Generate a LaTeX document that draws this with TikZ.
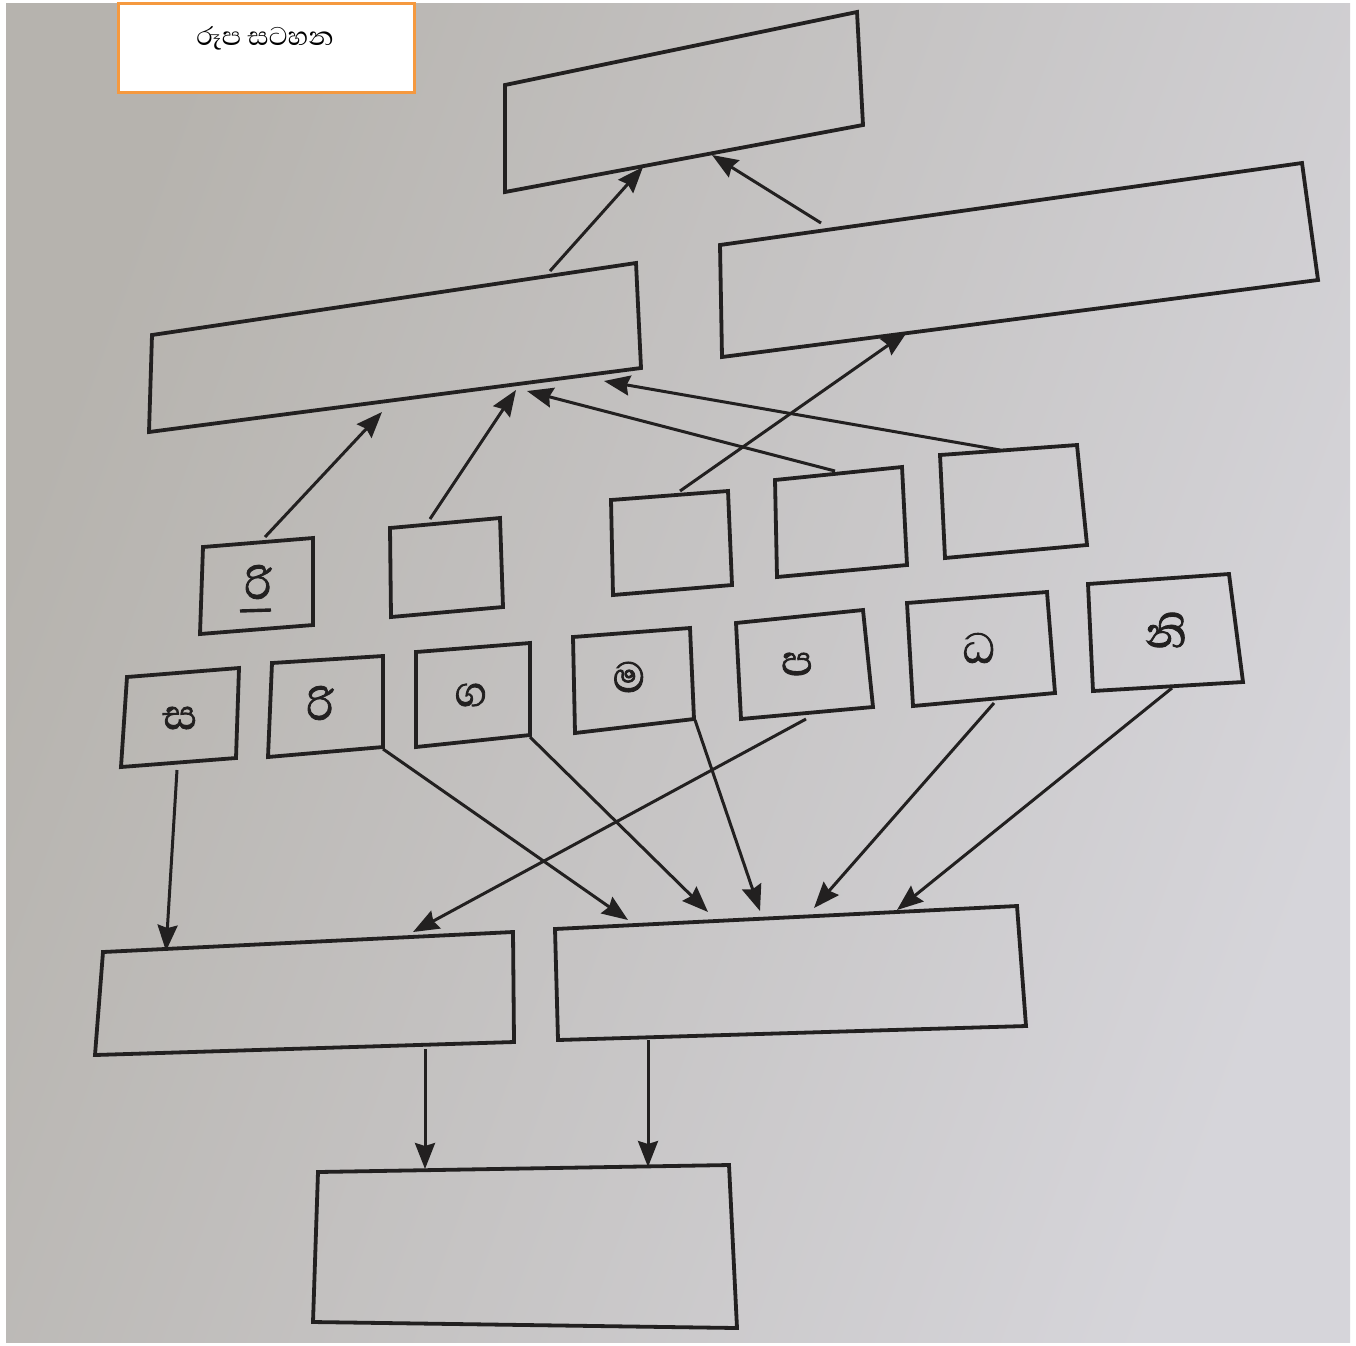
\documentclass[tikz,border=0pt]{standalone}
\usepackage{fontspec}
\newfontfamily\sinfont[Script=Sinhala]{Abhaya Libre}
\newfontfamily\sinbold[Script=Sinhala,FakeBold=1.6]{Abhaya Libre}
\usetikzlibrary{arrows.meta}
\definecolor{inkc}{HTML}{222020}
\definecolor{paperA}{HTML}{B6B3AE}
\definecolor{paperB}{HTML}{D6D5DA}
\definecolor{orangeb}{HTML}{F5993F}
\tikzset{
  boxline/.style={draw=inkc, line width=3.8pt, line join=miter},
  arr/.style={draw=inkc, line width=3pt, -{Stealth[length=26pt,width=20pt,inset=3pt]}},
  letter/.style={text=inkc, font=\sinbold\fontsize{54}{58}\selectfont, inner sep=0pt},
}
\begin{document}
\begin{tikzpicture}[x=1pt,y=-1pt]
\useasboundingbox (0,0) rectangle (1356,1345);
\fill[white] (0,0) rectangle (1356,1345);
\shade[left color=paperA, right color=paperB, shading angle=70] (6,3) rectangle (1350,1342);
% title
\node[draw=orangeb, line width=3pt, fill=white, minimum width=296pt, minimum height=89pt, inner sep=0pt] (title) at (266,48) {};
\node[font=\sinfont\fontsize{33}{36}\selectfont, inner sep=0pt] (titletext) at (265,38) {රූප සටහන};
% big boxes
\draw[boxline] (505,85) -- (857,12) -- (863,125) -- (505,192) -- cycle;
\draw[boxline] (720,245) -- (1302,163) -- (1318,280) -- (722,357) -- cycle;
\draw[boxline] (152,335) -- (636,263) -- (641,368) -- (149,432) -- cycle;
\draw[boxline] (103,952) -- (513,932) -- (514,1042) -- (95,1055) -- cycle;
\draw[boxline] (555,929) -- (1017,906) -- (1026,1026) -- (558,1040) -- cycle;
\draw[boxline] (318,1172) -- (729,1165) -- (737,1328) -- (313,1322) -- cycle;
% row 1 small boxes
\draw[boxline] (203,547) -- (313,538) -- (313,625) -- (200,634) -- cycle;
\draw[boxline] (390,528) -- (500,518) -- (503,607) -- (391,617) -- cycle;
\draw[boxline] (611,500) -- (728,491) -- (732,585) -- (613,595) -- cycle;
\draw[boxline] (775,480) -- (902,467) -- (907,565) -- (777,577) -- cycle;
\draw[boxline] (940,455) -- (1077,445) -- (1087,545) -- (945,558) -- cycle;
% row 2 small boxes
\draw[boxline] (127,677) -- (239,668) -- (236,758) -- (121,767) -- cycle;
\draw[boxline] (272,663) -- (383,656) -- (383,747) -- (268,757) -- cycle;
\draw[boxline] (416,652) -- (530,643) -- (530,735) -- (416,747) -- cycle;
\draw[boxline] (573,637) -- (690,628) -- (694,719) -- (575,733) -- cycle;
\draw[boxline] (736,623) -- (863,610) -- (873,707) -- (741,719) -- cycle;
\draw[boxline] (907,603) -- (1047,592) -- (1055,693) -- (913,706) -- cycle;
\draw[boxline] (1088,584) -- (1229,574) -- (1243,682) -- (1093,691) -- cycle;
% letters
\node[letter] (b1) at (258,582) {රි};
\draw[inkc, line width=3.4pt] (240,611) -- (271,610);
\node[letter] (c1) at (180,718) {ස};
\node[letter] (c2) at (320,703) {රි};
\node[letter] (c3) at (471,695) {ග};
\node[letter] (c4) at (629,677) {ම};
\node[letter] (c5) at (797,664) {ප};
\node[letter] (c6) at (979,648) {ධ};
\node[letter] (c7) at (1166,630) {නි};
% connector endpoints
\coordinate (b1t) at (265,537);
\coordinate (b2t) at (430,519);
\coordinate (b3t) at (680,491);
\coordinate (b4t) at (835,471);
\coordinate (b5t) at (1000,450);
\coordinate (ulb1) at (382,412);
\coordinate (ulb2) at (516,390);
\coordinate (ulb3) at (527,391);
\coordinate (ulb4) at (604,381);
\coordinate (urb) at (907,332);
\coordinate (ult) at (550,271);
\coordinate (urt) at (821,223);
\coordinate (tb1) at (643,167);
\coordinate (tb2) at (712,155);
\coordinate (c1b) at (177,770);
\coordinate (c2b) at (383,749);
\coordinate (c3b) at (530,737);
\coordinate (c4b) at (695,720);
\coordinate (c5b) at (806,719);
\coordinate (c6b) at (994,703);
\coordinate (c7b) at (1172,688);
\coordinate (llt1) at (166,951);
\coordinate (llt2) at (413,932);
\coordinate (lrt1) at (628,920);
\coordinate (lrt2) at (708,912);
\coordinate (lrt3) at (760,911);
\coordinate (lrt4) at (814,908);
\coordinate (lrt5) at (897,910);
\coordinate (llb) at (425,1049);
\coordinate (lrb) at (648,1040);
\coordinate (bbt1) at (425,1169);
\coordinate (bbt2) at (648,1167);
% arrows
\draw[arr] (b1t) -- (ulb1);
\draw[arr] (b2t) -- (ulb2);
\draw[arr] (b4t) -- (ulb3);
\draw[arr] (b5t) -- (ulb4);
\draw[arr] (b3t) -- (urb);
\draw[arr] (ult) -- (tb1);
\draw[arr] (urt) -- (tb2);
\draw[arr] (c1b) -- (llt1);
\draw[arr] (c5b) -- (llt2);
\draw[arr] (c2b) -- (lrt1);
\draw[arr] (c3b) -- (lrt2);
\draw[arr] (c4b) -- (lrt3);
\draw[arr] (c6b) -- (lrt4);
\draw[arr] (c7b) -- (lrt5);
\draw[arr] (llb) -- (bbt1);
\draw[arr] (lrb) -- (bbt2);
\end{tikzpicture}
\end{document}
